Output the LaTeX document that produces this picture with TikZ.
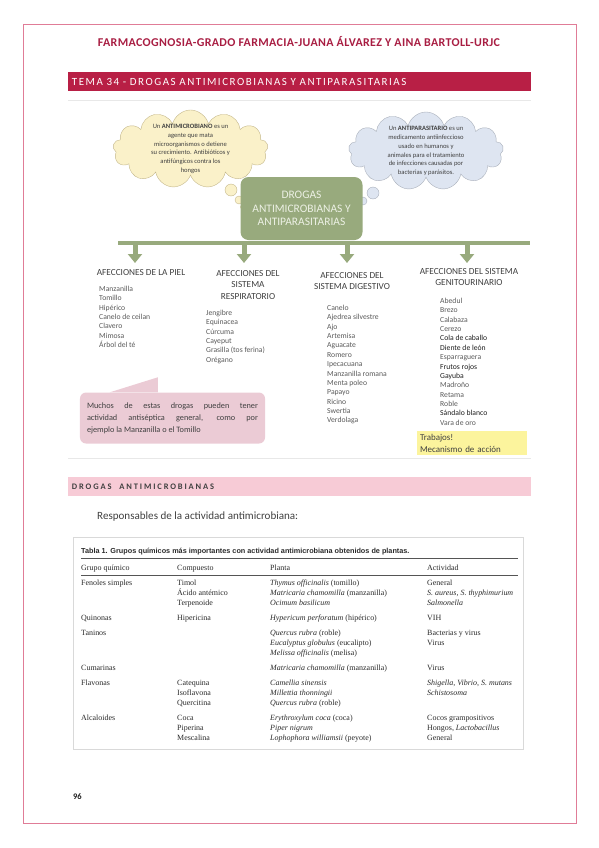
\documentclass[tikz,border=0pt]{standalone}
\usepackage{fontspec}
\setmainfont{Carlito}
\newfontfamily\spaced[LetterSpace=14]{Carlito}
\newfontfamily\wide[LetterSpace=22]{Carlito}
\newfontfamily\hdfont[LetterSpace=3]{Carlito}
\newfontfamily\tsans{Liberation Sans}
\newfontfamily\tserif{Liberation Serif}
\usetikzlibrary{arrows.meta,positioning,shapes.symbols}
\definecolor{bd}{HTML}{E07C97}
\definecolor{hd}{HTML}{A81D42}
\definecolor{rb}{HTML}{B81F45}
\definecolor{pb}{HTML}{F7CBD6}
\definecolor{cy}{HTML}{FAF1C9}
\definecolor{cyd}{HTML}{C4B88C}
\definecolor{cb}{HTML}{DEE5F1}
\definecolor{cbd}{HTML}{A9AFBA}
\definecolor{gr}{HTML}{98AA7D}
\definecolor{grt}{HTML}{ECF0E4}
\definecolor{ck}{HTML}{EBCBD5}
\definecolor{yb}{HTML}{FCF49D}
\definecolor{tx}{HTML}{404040}
\definecolor{lt}{HTML}{5A5A5A}
\definecolor{dk}{HTML}{1E1E1E}
\definecolor{tt}{HTML}{2A2A2A}
\definecolor{fr}{HTML}{D9D9D9}

\begin{document}
\begin{tikzpicture}[
    x=1bp, y=-1bp,
    cloudy/.style={cloud, cloud puffs=13, cloud ignores aspect, draw, thin,
                   minimum width=155bp, minimum height=78bp, inner sep=-7bp,
                   align=center, text=tx, font=\fontsize{6.6}{8.8}\selectfont},
    puff/.style={circle, draw, thin, inner sep=0pt},
    gbox/.style={fill=gr, rounded corners=8bp, minimum width=122bp,
                 minimum height=63bp, align=center, text=grt,
                 font=\fontsize{11.5}{13.5}\selectfont},
    bar/.style={draw=gr, line width=3.5bp},
    blk/.style={draw=gr, line width=5bp, -{Triangle[width=14bp,length=9bp]}},
    head/.style={align=center, text=tx, inner sep=0pt,
                 font=\fontsize{9.3}{11.5}\selectfont},
    lst/.style={align=left, text=lt, inner sep=0pt, anchor=north west,
                font=\fontsize{7.7}{9.4}\selectfont},
    band/.style={fill=rb, text=white, minimum height=19bp, text width=455bp,
                 inner xsep=4bp, align=left, font=\spaced\fontsize{11}{12}\selectfont},
    pband/.style={fill=pb, text=tx, minimum height=19bp, text width=455bp,
                  inner xsep=4bp, align=left, font=\wide\bfseries\fontsize{8.5}{10}\selectfont},
    callbox/.style={fill=ck, rounded corners=6bp, text width=171bp, inner xsep=7bp,
                    inner ysep=6bp, minimum height=51bp, align=justify, text=tx,
                    font=\fontsize{8.3}{12}\selectfont},
    ybox/.style={fill=yb, minimum width=110bp, minimum height=24bp, text width=104bp,
                 inner xsep=3bp, inner ysep=1bp, align=left, text=tx,
                 font=\fontsize{9}{12}\selectfont},
    tc/.style={anchor=base west, align=left, inner sep=0pt, text=tt,
               font=\tserif\fontsize{8}{10}\selectfont},
    rule/.style={draw=tt!80, line width=0.6bp}
]
\useasboundingbox (0,0) rectangle (599,848);
\draw[bd, line width=1bp] (23,24) rectangle (576,823);

% cabecera
\node[text=hd, font=\hdfont\bfseries\fontsize{12}{14}\selectfont] (autor) at (299,42)
     {FARMACOGNOSIA-GRADO FARMACIA-JUANA ÁLVAREZ Y AINA BARTOLL-URJC};
\node[band] (tema) at (299.5,81.5) {TEMA 34 - DROGAS ANTIMICROBIANAS Y ANTIPARASITARIAS};
\draw[fr!60, line width=0.8bp] (68,100) -- (531,100);

% mapa
\node[cloudy, fill=cy, draw=cyd] (micro) at (190.5,149)
     {Un \textbf{ANTIMICROBIANO} es un\\agente que mata\\microorganismos o detiene\\
      su crecimiento. Antibióticos y\\antifúngicos contra los\\hongos};
\node[cloudy, fill=cb, draw=cbd] (para) at (426,151)
     {Un \textbf{ANTIPARASITARIO} es un\\medicamento antiinfeccioso\\usado en humanos y\\
      animales para el tratamiento\\de infecciones causadas por\\bacterias y parásitos.};
\node[puff, fill=cy, draw=cyd, minimum size=12bp] (p1) at (231,190) {};
\node[puff, fill=cy, draw=cyd, minimum size=8bp]  (p2) at (239,200) {};
\node[puff, fill=cy, draw=cyd, minimum size=5bp]  (p3) at (243,207) {};
\node[puff, fill=cb, draw=cbd, minimum size=12bp] (q1) at (373,193) {};
\node[puff, fill=cb, draw=cbd, minimum size=8bp]  (q2) at (363,201) {};
\node[puff, fill=cb, draw=cbd, minimum size=5bp]  (q3) at (358,207) {};

\node[gbox] (drogas) at (301.5,208.5) {DROGAS\\ANTIMICROBIANAS Y\\ANTIPARASITARIAS};

\coordinate (barL) at (118,243);
\coordinate (barR) at (530,243);
\draw[bar] (barL) -- (barR);
\foreach \x [count=\i] in {135,244,347,467} {
  \coordinate (a\i) at (\x,243);
  \coordinate (t\i) at (\x,263);
  \draw[blk] (a\i) -- (t\i);
}

\node[head, anchor=north] (h1) at (141,269) {AFECCIONES DE LA PIEL};
\node[head, anchor=north] (h2) at (248,270) {AFECCIONES DEL\\SISTEMA\\RESPIRATORIO};
\node[head, anchor=north] (h3) at (352,272) {AFECCIONES DEL\\SISTEMA DIGESTIVO};
\node[head, anchor=north] (h4) at (469,268) {AFECCIONES DEL SISTEMA\\GENITOURINARIO};

\node[lst] (l1) at (99,286) {Manzanilla\\Tomillo\\Hipérico\\Canelo de ceilan\\Clavero\\
      Mimosa\\Árbol del té};
\node[lst] (l2) at (206,310) {Jengibre\\Equinacea\\Cúrcuma\\Cayeput\\
      Grasilla (tos ferina)\\Orégano};
\node[lst] (l3) at (327,305) {Canelo\\Ajedrea silvestre\\Ajo\\Artemisa\\Aguacate\\Romero\\
      Ipecacuana\\Manzanilla romana\\Menta poleo\\Papayo\\Ricino\\Swertia\\Verdolaga};
\node[lst] (l4) at (440,298) {Abedul\\Brezo\\Calabaza\\Cerezo\\\textcolor{dk}{Cola de caballo}\\
      \textcolor{dk}{Diente de león}\\Esparraguera\\\textcolor{dk}{Frutos rojos}\\
      \textcolor{dk}{Gayuba}\\Madroño\\Retama\\Roble\\\textcolor{dk}{Sándalo blanco}\\Vara de oro};

\node[callbox] (nota) at (172.5,418) {Muchos de estas drogas pueden tener\linebreak
      actividad antiséptica general, como por\linebreak ejemplo la Manzanilla o el Tomillo};
\fill[ck] ([xshift=30bp]nota.north west) -- ([xshift=78bp,yshift=15bp]nota.north west)
      -- ([xshift=78bp]nota.north west) -- cycle;

\node[ybox] (trab) at (472,443) {Trabajos!\\Mecanismo de acción};
\draw[fr!60, line width=0.8bp] (68,458) -- (531,458);

% antimicrobianas
\node[pband] (sec) at (299.5,486.5) {DROGAS\hspace{5bp} ANTIMICROBIANAS};
\node[anchor=base west, text=tx, inner sep=0pt, font=\fontsize{11.1}{13}\selectfont]
     (resp) at (97,519) {Responsables de la actividad antimicrobiana:};

% tabla (base = ultima linea de cada celda)
\draw[fr, line width=0.8bp] (73,537) rectangle (523,749);
\node[anchor=base west, inner sep=0pt, text=tt, font=\tsans\bfseries\fontsize{7.3}{8}\selectfont]
     (tab) at (81,553.5) {Tabla 1. Grupos químicos más importantes con actividad antimicrobiana obtenidos de plantas.};
\draw[rule] (81,558) -- (518,558);
\node[tc] (c0) at (81,570.5) {Grupo químico};
\node[tc] at (177,570.5) {Compuesto};
\node[tc] at (270,570.5) {Planta};
\node[tc] at (427,570.5) {Actividad};
\draw[rule] (81,575) -- (518,575);

\node[tc] (g1) at (81,585) {Fenoles simples};
\node[tc] at (177,605) {Timol\\Ácido antémico\\Terpenoide};
\node[tc] at (270,605) {\textit{Thymus officinalis} (tomillo)\\\textit{Matricaria chamomilla} (manzanilla)\\\textit{Ocimum basilicum}};
\node[tc] at (427,605) {General\\\textit{S. aureus, S. thyphimurium}\\\textit{Salmonella}};

\node[tc] (g2) at (81,620) {Quinonas};
\node[tc] at (177,620) {Hipericina};
\node[tc] at (270,620) {\textit{Hypericum perforatum} (hipérico)};
\node[tc] at (427,620) {VIH};

\node[tc] (g3) at (81,635) {Taninos};
\node[tc] at (270,655) {\textit{Quercus rubra} (roble)\\\textit{Eucalyptus globulus} (eucalipto)\\\textit{Melissa officinalis} (melisa)};
\node[tc] at (427,645) {Bacterias y virus\\Virus};

\node[tc] (g4) at (81,670) {Cumarinas};
\node[tc] at (270,670) {\textit{Matricaria chamomilla} (manzanilla)};
\node[tc] at (427,670) {Virus};

\node[tc] (g5) at (81,685) {Flavonas};
\node[tc] at (177,705) {Catequina\\Isoflavona\\Quercitina};
\node[tc] at (270,705) {\textit{Camellia sinensis}\\\textit{Millettia thonningii}\\\textit{Quercus rubra} (roble)};
\node[tc] at (427,695) {\textit{Shigella, Vibrio, S. mutans}\\\textit{Schistosoma}};

\node[tc] (g6) at (81,720) {Alcaloides};
\node[tc] at (177,740) {Coca\\Piperina\\Mescalina};
\node[tc] at (270,740) {\textit{Erythroxylum coca} (coca)\\\textit{Piper nigrum}\\\textit{Lophophora williamsii} (peyote)};
\node[tc] at (427,740) {Cocos grampositivos\\Hongos, \textit{Lactobacillus}\\General};

\node[anchor=base west, inner sep=0pt, text=dk, font=\bfseries\fontsize{8.5}{10}\selectfont]
     (pag) at (73,799) {96};
\end{tikzpicture}
\end{document}
